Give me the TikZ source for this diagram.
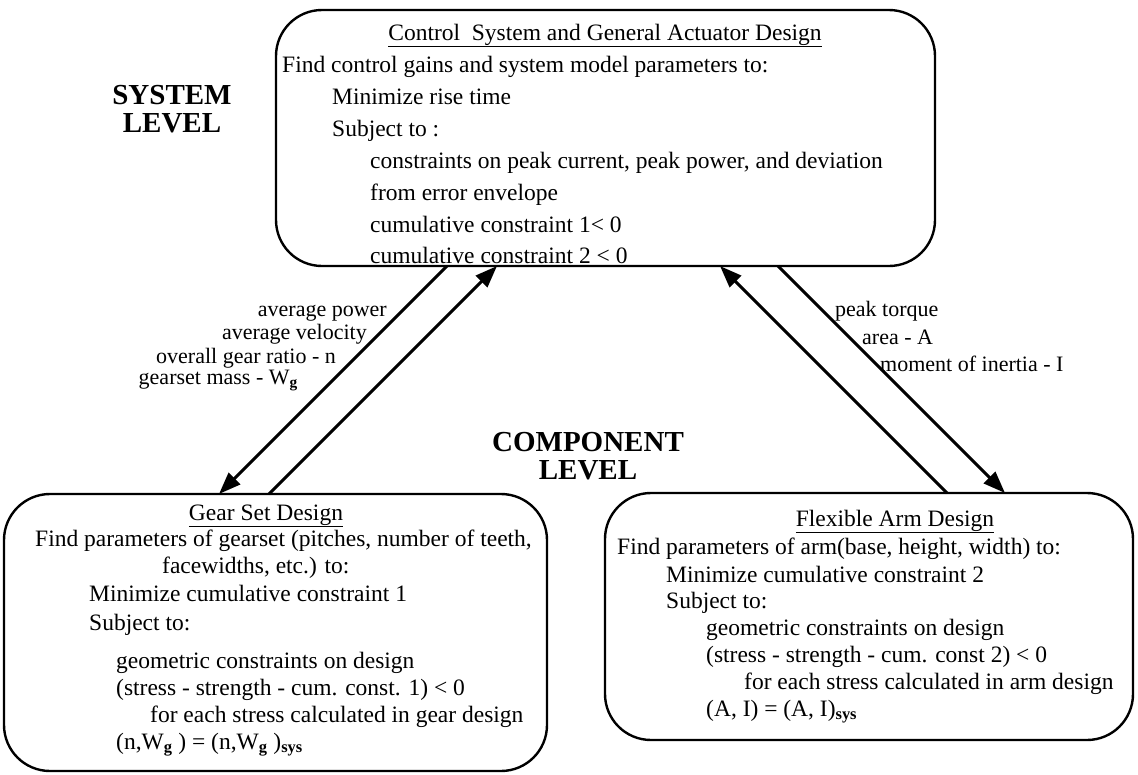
\documentclass[tikz,border=0pt]{standalone}
\usepackage{fontspec}
\setmainfont{Liberation Serif}
\usetikzlibrary{arrows.meta}
\tikzset{
  designbox/.style={draw, line width=2.4pt, rounded corners=46pt, inner sep=0pt},
  ln/.style={anchor=base west, inner sep=0pt, font=\fontsize{23.5}{27}\selectfont},
  ttl/.style={anchor=base, inner sep=0pt, font=\fontsize{23.5}{27}\selectfont},
  levellabel/.style={font=\fontsize{29}{28}\selectfont\bfseries, align=center, inner sep=0pt},
  flowlabel/.style={inner sep=0pt, font=\fontsize{22}{26}\selectfont},
  flow/.style={line width=3pt, -{Triangle[length=22pt,width=16pt]}}
}
\newcommand{\subb}[1]{\textsubscript{\textbf{#1}}}
\begin{document}
\begin{tikzpicture}[x=1pt,y=-1pt]
\useasboundingbox (0,0) rectangle (1138,774);

% level captions
\node[levellabel] (syslvl) at (172,109) {SYSTEM\\LEVEL};
\node[levellabel] (complvl) at (588,456) {COMPONENT\\LEVEL};

% system-level box
\node[designbox, minimum width=659pt, minimum height=256pt] (sys) at (605.5,138) {};
\node[ttl] (s0) at (605,40) {\underline{Control\ \ System and General Actuator Design}};
\node[ln] (s1) at (282,72) {Find control gains and system model parameters to:};
\node[ln] (s2) at (332,104) {Minimize rise time};
\node[ln] (s3) at (332,136) {Subject to :};
\node[ln] (s4) at (370,168) {constraints on peak current, peak power, and deviation};
\node[ln] (s5) at (370,200) {from error envelope};
\node[ln] (s6) at (370,232) {cumulative constraint 1< 0};
\node[ln] (s7) at (370,263) {cumulative constraint 2 < 0};

% gear set box
\node[designbox, minimum width=543pt, minimum height=277pt] (gear) at (275.5,632.5) {};
\node[ttl] (g0) at (266,520) {\underline{Gear Set Design}};
\node[ln] (g1) at (35,546) {Find parameters of gearset (pitches, number of teeth,};
\node[ln] (g2) at (162,573) {facewidths, etc.) to:};
\node[ln] (g3) at (89,601) {Minimize cumulative constraint 1};
\node[ln] (g4) at (89,630) {Subject to:};
\node[ln] (g5) at (116,668) {geometric constraints on design};
\node[ln] (g6) at (116,695) {(stress - strength - cum. const. 1) < 0};
\node[ln] (g7) at (150,722) {for each stress calculated in gear design};
\node[ln] (g8) at (116,749) {(n,W\subb{g} ) = (n,W\subb{g} )\subb{sys}};

% flexible arm box
\node[designbox, minimum width=528pt, minimum height=247pt] (arm) at (869,616.5) {};
\node[ttl] (f0) at (895,526) {\underline{Flexible Arm Design}};
\node[ln] (f1) at (617,554) {Find parameters of arm(base, height, width) to:};
\node[ln] (f2) at (666,582) {Minimize cumulative constraint 2};
\node[ln] (f3) at (666,608) {Subject to:};
\node[ln] (f4) at (706,635) {geometric constraints on design};
\node[ln] (f5) at (706,662) {(stress - strength - cum. const 2) < 0};
\node[ln] (f6) at (744,689) {for each stress calculated in arm design};
\node[ln] (f7) at (706,716) {(A, I) = (A, I)\subb{sys}};

% connection points on the box edges
\coordinate (a1) at (447,266);
\coordinate (a2) at (219,494);
\coordinate (b1) at (269,494);
\coordinate (b2) at (497,266);
\coordinate (c1) at (947,493);
\coordinate (c2) at (720,266);
\coordinate (d1) at (778,266);
\coordinate (d2) at (1005,493);

% data passed between the levels
\draw[flow] (a1) -- (a2);
\draw[flow] (b1) -- (b2);
\draw[flow] (c1) -- (c2);
\draw[flow] (d1) -- (d2);

% flow labels
\node[flowlabel, anchor=base east] (lap) at (387,316) {average power};
\node[flowlabel, anchor=base east] (lav) at (367,339) {average velocity};
\node[flowlabel, anchor=base east] (lgr) at (336,363) {overall gear ratio - n};
\node[flowlabel, anchor=base east] (lgm) at (298,384) {gearset mass - W\subb{g}};
\node[flowlabel, anchor=base west] (lpt) at (835,316) {peak torque};
\node[flowlabel, anchor=base west] (lar) at (862,344) {area - A};
\node[flowlabel, anchor=base west] (lmi) at (880,371) {moment of inertia - I};
\end{tikzpicture}
\end{document}
